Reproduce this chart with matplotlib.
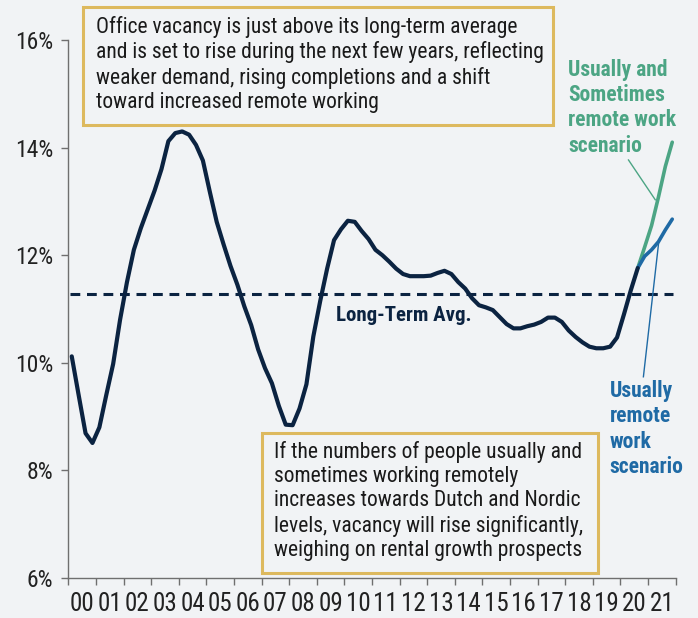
"""Office vacancy rate with two remote-work scenarios, quarterly 2000-2021."""

import matplotlib

matplotlib.use("Agg")
import matplotlib.pyplot as plt
import numpy as np
from matplotlib.patches import Rectangle

W, H, DPI = 698, 618, 100

# quarterly vacancy (%), 2000Q1 .. 2020Q3
hist = [
    10.12, 9.40, 8.69, 8.51,     # 2000
    8.80, 9.40, 9.98, 10.80,     # 2001
    11.50, 12.10, 12.50, 12.85,  # 2002
    13.20, 13.60, 14.12, 14.27,  # 2003
    14.30, 14.24, 14.05, 13.76,  # 2004
    13.18, 12.62, 12.20, 11.80,  # 2005
    11.45, 11.05, 10.70, 10.25,  # 2006
    9.90, 9.62, 9.20, 8.85,      # 2007
    8.84, 9.15, 9.60, 10.49,     # 2008
    11.15, 11.75, 12.28, 12.48,  # 2009
    12.64, 12.62, 12.45, 12.30,  # 2010
    12.10, 12.00, 11.88, 11.75,  # 2011
    11.65, 11.61, 11.61, 11.61,  # 2012
    11.62, 11.67, 11.71, 11.65,  # 2013
    11.50, 11.38, 11.20, 11.07,  # 2014
    11.03, 10.98, 10.85, 10.72,  # 2015
    10.64, 10.64, 10.68, 10.71,  # 2016
    10.76, 10.84, 10.84, 10.76,  # 2017
    10.60, 10.48, 10.38, 10.30,  # 2018
    10.27, 10.27, 10.30, 10.47,  # 2019
    10.90, 11.35, 11.76,         # 2020
]
# scenarios, 2020Q3 .. 2021Q4
usually_and_sometimes = [11.76, 12.15, 12.55, 13.08, 13.65, 14.10]
usually_only = [11.76, 11.98, 12.10, 12.25, 12.47, 12.67]
long_term_avg = 11.28

years = list(range(2000, 2022))
year_labels = [f"{y % 100:02d}" for y in years]
y_ticks = [6, 8, 10, 12, 14, 16]

NAVY = "#0b2341"
GREEN = "#4ca584"
BLUE = "#1f6aa5"
GOLD = "#ddb95e"
BG = "#f1f3f5"
FONT = ["Roboto Condensed", "Liberation Sans Narrow", "DejaVu Sans"]

plt.rcParams["font.family"] = FONT


def fx(px):
    return px / W


def fy(py):
    return 1 - py / H


fig = plt.figure(figsize=(W / DPI, H / DPI), dpi=DPI, facecolor=BG)
ax = fig.add_axes([fx(68.3), fy(578), fx(675.7) - fx(68.3), fy(40) - fy(578)])
ax.set_facecolor(BG)

hist_x = 2000 + (np.arange(len(hist)) + 0.5) / 4
scen_x = hist_x[-1] + np.arange(len(usually_only)) / 4

ax.axhline(long_term_avg, xmin=0.003, xmax=0.995, color=NAVY, lw=2.2,
           dashes=(3.2, 2.2))
ax.plot(scen_x, usually_and_sometimes, color=GREEN, lw=2.6,
        solid_capstyle="round")
ax.plot(scen_x, usually_only, color=BLUE, lw=2.6, solid_capstyle="round")
ax.plot(hist_x, hist, color=NAVY, lw=3.0, solid_capstyle="round",
        solid_joinstyle="round")

ax.set_xlim(2000, 2022)
ax.set_ylim(6, 16)
ax.set_yticks(y_ticks)
ax.set_yticklabels([f"{v}%" for v in y_ticks])
ax.set_xticks(range(2000, 2023))
ax.set_xticklabels([])
ax.set_xticks([y + 0.5 for y in years], minor=True)
ax.set_xticklabels(year_labels, minor=True)

for s in ("top", "right"):
    ax.spines[s].set_visible(False)
for s in ("left", "bottom"):
    ax.spines[s].set_color("#6f6f6f")
    ax.spines[s].set_linewidth(1.0)
ax.tick_params(axis="y", length=5, width=1, color="#6f6f6f", pad=6,
               labelsize=17, labelcolor="#222222")
ax.tick_params(axis="x", which="major", length=5, width=1, color="#6f6f6f")
ax.tick_params(axis="x", which="minor", length=0, pad=10, labelsize=18,
               labelcolor="#222222")

ax.text(2009.7, 10.87, "Long-Term Avg.", color=NAVY, fontsize=15,
        fontweight="bold", va="center", ha="left")

# scenario labels with leader lines
ax.text(2018.1, 14.74, "Usually and\nSometimes\nremote work\nscenario",
        color=GREEN, fontsize=15.5, fontweight="bold", va="center",
        ha="left", linespacing=1.2)
ax.plot([2020.29, 2021.26], [13.77, 13.03], color=GREEN, lw=1.0)
ax.text(2019.6, 8.77, "Usually\nremote\nwork\nscenario", color=BLUE,
        fontsize=15.5, fontweight="bold", va="center", ha="left",
        linespacing=1.2)
ax.plot([2021.38, 2020.83], [12.22, 9.74], color=BLUE, lw=1.0)

# annotation boxes drawn in figure pixels
fig.add_artist(Rectangle((fx(83.3), fy(125)), fx(553.3) - fx(83.3),
                         fy(7) - fy(125), transform=fig.transFigure,
                         facecolor=BG, edgecolor=GOLD, lw=2.2))
fig.text(fx(96), fy(16),
         "Office vacancy is just above its long-term average\n"
         "and is set to rise during the next few years, reflecting\n"
         "weaker demand, rising completions and a shift\n"
         "toward increased remote working",
         fontsize=15.5, color="#1a1a1a", va="top", ha="left",
         linespacing=1.2)

fig.add_artist(Rectangle((fx(262.3), fy(573.3)), fx(598.3) - fx(262.3),
                         fy(432.7) - fy(573.3), transform=fig.transFigure,
                         facecolor=BG, edgecolor=GOLD, lw=2.2))
fig.text(fx(274.3), fy(441),
         "If the numbers of people usually and\n"
         "sometimes working remotely\n"
         "increases towards Dutch and Nordic\n"
         "levels, vacancy will rise significantly,\n"
         "weighing on rental growth prospects",
         fontsize=15.5, color="#1a1a1a", va="top", ha="left",
         linespacing=1.2)

fig.savefig("out.png", dpi=DPI, facecolor=BG)
